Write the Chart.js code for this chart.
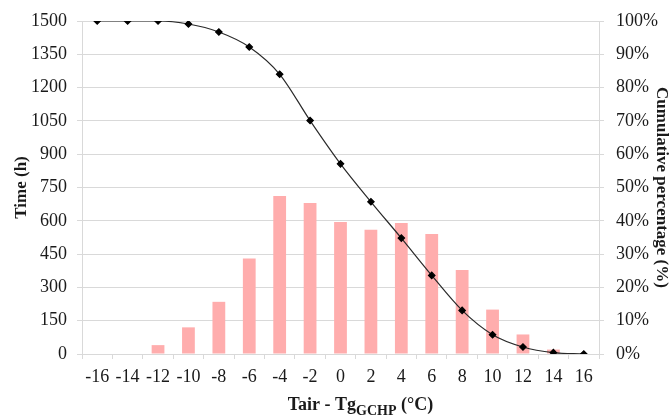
<!DOCTYPE html>
<html>
<head>
<meta charset="utf-8">
<script src="https://cdn.jsdelivr.net/npm/chart.js@4/dist/chart.umd.min.js"></script>
<style>
  html, body { margin: 0; padding: 0; background: #fff; }
  #wrap { width: 672px; height: 416px; }
</style>
</head>
<body>
<div id="wrap"><canvas id="chart"></canvas></div>
<script>
// temperature difference classes (°C)
const temps = ['-16', '-14', '-12', '-10', '-8', '-6', '-4', '-2', '0', '2', '4', '6', '8', '10', '12', '14', '16'];
// hours per class
const hours = [0, 0, 40, 120, 235, 430, 712, 680, 595, 560, 590, 540, 378, 200, 88, 20, 0];
// cumulative percentage (%)
const cumulative = [100, 100, 100, 99.1, 96.7, 92.2, 84.0, 70.1, 57.1, 45.7, 34.8, 23.6, 13.1, 5.8, 2.1, 0.4, 0];

const serif = "'Liberation Serif', 'Times New Roman', serif";
const gridColor = '#d9d9d9';
const textColor = '#1a1a1a';

// x axis title with subscript, drawn on the canvas
const xTitle = {
  id: 'xTitle',
  afterDraw(chart) {
    const ctx = chart.ctx;
    const area = chart.chartArea;
    const parts = [
      { t: 'Tair - Tg', f: 'bold 18px ' + serif, dy: 0 },
      { t: 'GCHP', f: 'bold 14px ' + serif, dy: 5 },
      { t: ' (°C)', f: 'bold 18px ' + serif, dy: 0 },
    ];
    ctx.save();
    let total = 0;
    parts.forEach(p => { ctx.font = p.f; p.w = ctx.measureText(p.t).width; total += p.w; });
    let x = (area.left + area.right) / 2 + 20 - total / 2;
    const base = 410;
    ctx.fillStyle = textColor;
    ctx.textBaseline = 'alphabetic';
    ctx.textAlign = 'left';
    parts.forEach(p => {
      ctx.font = p.f;
      ctx.fillText(p.t, x, base + p.dy);
      x += p.w;
    });
    ctx.restore();
  }
};

const canvas = document.getElementById('chart');
const config = {
  type: 'bar',
  data: {
    labels: temps,
    datasets: [
      {
        type: 'line',
        label: 'Cumulative percentage',
        data: cumulative,
        yAxisID: 'yPct',
        borderColor: '#2a2a2a',
        borderWidth: 1.2,
        cubicInterpolationMode: 'monotone',
        pointStyle: 'rectRot',
        pointRadius: 3.2,
        pointBackgroundColor: '#000',
        pointBorderColor: '#000',
        order: 0,
      },
      {
        label: 'Time',
        data: hours,
        yAxisID: 'y',
        backgroundColor: '#ffadad',
        categoryPercentage: 1,
        barPercentage: 0.42,
        order: 1,
      },
    ],
  },
  options: {
    responsive: false,
    animation: false,
    layout: { padding: { top: 19, left: 0, right: 0, bottom: 0 } },
    plugins: {
      legend: { display: false },
      tooltip: { enabled: false },
    },
    scales: {
      x: {
        offset: true,
        grid: {
          offset: true,
          drawOnChartArea: false,
          drawTicks: true,
          tickLength: 5,
          color: gridColor,
        },
        border: { color: gridColor },
        ticks: {
          autoSkip: false,
          maxRotation: 0,
          padding: 7,
          color: textColor,
          font: { family: serif, size: 18 },
        },
        afterFit(scale) { scale.height = 62; },
      },
      y: {
        position: 'left',
        min: 0,
        max: 1500,
        ticks: {
          stepSize: 150,
          padding: 10,
          color: textColor,
          font: { family: serif, size: 18, lineHeight: 1 },
          callback: (v) => String(v),
        },
        grid: { color: gridColor, tickLength: 5 },
        border: { color: gridColor },
        title: {
          display: true,
          text: 'Time (h)',
          color: textColor,
          font: { family: serif, size: 17, weight: 'bold' },
          padding: { top: 11, bottom: 0 },
        },
        afterFit(scale) { scale.width = 82; },
      },
      yPct: {
        position: 'right',
        min: 0,
        max: 100,
        ticks: {
          stepSize: 10,
          padding: 12,
          color: textColor,
          font: { family: serif, size: 18, lineHeight: 1 },
          callback: (v) => v + '%',
        },
        grid: { drawOnChartArea: false, color: gridColor, tickLength: 5 },
        border: { color: gridColor },
        title: {
          display: true,
          text: 'Cumulative percentage (%)',
          color: textColor,
          font: { family: serif, size: 17, weight: 'bold' },
          padding: { top: 0, bottom: 0 },
        },
        afterFit(scale) { scale.width = 73; },
      },
    },
  },
  plugins: [xTitle],
};

canvas.width = 672;
canvas.height = 416;
const chart = new Chart(canvas, config);
</script>
</body>
</html>
